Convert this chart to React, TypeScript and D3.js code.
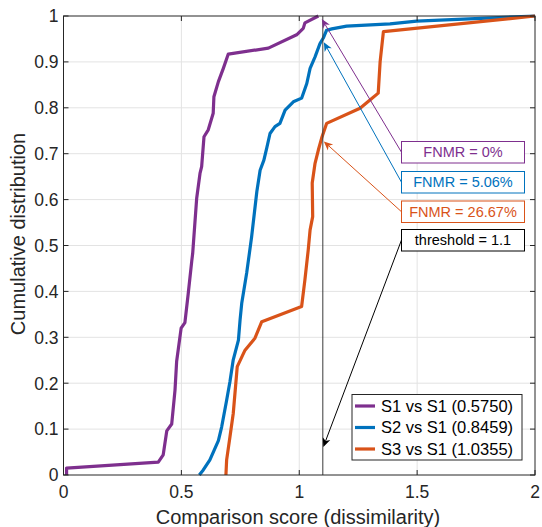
import React from "react";
import * as d3 from "d3";

const s1X = [0.013, 0.013, 0.402, 0.423, 0.438, 0.459, 0.473, 0.48, 0.499, 0.515, 0.529, 0.544, 0.548, 0.565, 0.579, 0.586, 0.596, 0.614, 0.635, 0.638, 0.657, 0.678, 0.699, 0.869, 0.989, 1.017, 1.024, 1.081];
const s1Y = [0, 0.015, 0.028, 0.044, 0.096, 0.111, 0.185, 0.248, 0.32, 0.332, 0.395, 0.466, 0.483, 0.603, 0.657, 0.672, 0.737, 0.752, 0.788, 0.824, 0.857, 0.886, 0.917, 0.930, 0.959, 0.973, 0.985, 1.0];

const s2X = [0.576, 0.593, 0.621, 0.657, 0.671, 0.692, 0.706, 0.720, 0.742, 0.749, 0.756, 0.777, 0.798, 0.820, 0.834, 0.850, 0.862, 0.876, 0.897, 0.918, 0.940, 0.975, 1.010, 1.032, 1.046, 1.067, 1.088, 1.102, 1.116, 1.138, 1.201, 1.385, 1.498, 2.0];
const s2Y = [0, 0.011, 0.033, 0.075, 0.105, 0.163, 0.203, 0.251, 0.294, 0.338, 0.374, 0.44, 0.519, 0.617, 0.664, 0.686, 0.712, 0.744, 0.759, 0.766, 0.795, 0.813, 0.821, 0.853, 0.886, 0.911, 0.940, 0.952, 0.969, 0.972, 0.978, 0.983, 0.989, 1.0];

const s3X = [0.689, 0.692, 0.706, 0.720, 0.737, 0.770, 0.812, 0.841, 1.010, 1.024, 1.038, 1.046, 1.057, 1.055, 1.067, 1.081, 1.095, 1.116, 1.258, 1.300, 1.335, 1.343, 1.357, 2.0];
const s3Y = [0, 0.033, 0.083, 0.134, 0.236, 0.272, 0.298, 0.334, 0.367, 0.425, 0.49, 0.534, 0.563, 0.636, 0.679, 0.708, 0.734, 0.766, 0.799, 0.817, 0.832, 0.900, 0.966, 1.0];

const seriesNames = ["S1 vs S1 (0.5750)", "S2 vs S1 (0.8459)", "S3 vs S1 (1.0355)"];
const seriesColors = ["#7E2F8E", "#0072BD", "#D95319"];
const fnmrLabels = ["FNMR = 0%", "FNMR = 5.06%", "FNMR = 26.67%"];
const fnmrValues = [0, 0.0506, 0.2667];
const threshold = 1.1;
const xTicks = [0, 0.5, 1, 1.5, 2];
const yTicks = [0, 0.1, 0.2, 0.3, 0.4, 0.5, 0.6, 0.7, 0.8, 0.9, 1];

const W = 542, H = 527;
const L = 63.5, R = 535, T = 16, B = 475;
const FONT = "'Liberation Sans', Arial, Helvetica, sans-serif";
const AX = "#262626";

function Arrow({ x1, y1, x2, y2, color }: { x1: number; y1: number; x2: number; y2: number; color: string }) {
  const ang = Math.atan2(y2 - y1, x2 - x1);
  const len = 9, hw = 4, notch = 6.5;
  const ux = Math.cos(ang), uy = Math.sin(ang);
  const px = -uy, py = ux;
  const bx = x2 - ux * len, by = y2 - uy * len;
  const nx = x2 - ux * notch, ny = y2 - uy * notch;
  const pts = [
    [x2, y2],
    [bx + px * hw, by + py * hw],
    [nx, ny],
    [bx - px * hw, by - py * hw],
  ];
  return (
    <g>
      <line x1={x1} y1={y1} x2={nx} y2={ny} stroke={color} strokeWidth={1} />
      <polygon points={pts.map((p) => p.join(",")).join(" ")} fill={color} />
    </g>
  );
}

export default function App() {
  const x = d3.scaleLinear().domain([0, 2]).range([L, R]);
  const y = d3.scaleLinear().domain([0, 1]).range([B, T]);
  const line = d3.line<[number, number]>().x((d) => x(d[0])).y((d) => y(d[1]));
  const series = [
    d3.zip(s1X, s1Y) as [number, number][],
    d3.zip(s2X, s2Y) as [number, number][],
    d3.zip(s3X, s3Y) as [number, number][],
  ];
  const tx = x(threshold);
  const boxX = 401.5, boxW = 123;
  const boxY = [141.5, 171.5, 201, 229.5];
  const boxH = 21.5;
  const targets = fnmrValues.map((v) => y(1 - v));
  const legX = 352, legY = 394.5, legW = 170, legH = 65.5;
  const rowY = [406, 427.5, 449];

  return (
    <svg width={W} height={H} style={{ position: "absolute", left: 0, top: 0, background: "#fff" }} fontFamily={FONT}>
      <rect x={0} y={0} width={W} height={H} fill="#fff" />
      {/* grid */}
      {xTicks.slice(1, -1).map((t) => (
        <line key={"gx" + t} x1={x(t)} x2={x(t)} y1={T} y2={B} stroke="#e3e3e3" strokeWidth={1} />
      ))}
      {yTicks.slice(1, -1).map((t) => (
        <line key={"gy" + t} x1={L} x2={R} y1={y(t)} y2={y(t)} stroke="#e3e3e3" strokeWidth={1} />
      ))}
      {/* curves */}
      {series.map((s, i) => (
        <path key={i} d={line(s) || ""} fill="none" stroke={seriesColors[i]} strokeWidth={3.2} strokeLinejoin="round" />
      ))}
      {/* threshold */}
      <line x1={tx} x2={tx} y1={y(0)} y2={y(1)} stroke="#3a3a3a" strokeWidth={1} />
      {/* axes box */}
      <rect x={L} y={T} width={R - L} height={B - T} fill="none" stroke={AX} strokeWidth={1} />
      {xTicks.map((t) => (
        <g key={"tx" + t}>
          <line x1={x(t)} x2={x(t)} y1={B} y2={B - 5} stroke={AX} />
          <line x1={x(t)} x2={x(t)} y1={T} y2={T + 5} stroke={AX} />
          <text x={x(t)} y={B + 23} textAnchor="middle" fontSize={17.5} fill={AX}>{String(t)}</text>
        </g>
      ))}
      {yTicks.map((t) => (
        <g key={"ty" + t}>
          <line x1={L} x2={L + 5} y1={y(t)} y2={y(t)} stroke={AX} />
          <line x1={R} x2={R - 5} y1={y(t)} y2={y(t)} stroke={AX} />
          <text x={L - 5} y={y(t)} dy="0.36em" textAnchor="end" fontSize={17.5} fill={AX}>{String(t)}</text>
        </g>
      ))}
      <text x={298} y={524} textAnchor="middle" fontSize={20} fill={AX}>Comparison score (dissimilarity)</text>
      <text transform={`translate(25,234) rotate(-90)`} textAnchor="middle" fontSize={20} fill={AX}>Cumulative distribution</text>
      {/* annotations */}
      {fnmrLabels.map((lab, i) => (
        <g key={"a" + i}>
          <Arrow x1={boxX} y1={boxY[i] + boxH / 2} x2={tx + (i === 0 ? -1 : 1)} y2={i === 0 ? 19 : targets[i] + 3} color={seriesColors[i]} />
          <rect x={boxX} y={boxY[i]} width={boxW} height={boxH} fill="#fff" stroke={seriesColors[i]} strokeWidth={1} />
          <text x={boxX + boxW / 2} y={boxY[i] + boxH / 2} dy="0.36em" textAnchor="middle" fontSize={14.5} fill={seriesColors[i]}>{lab}</text>
        </g>
      ))}
      <Arrow x1={boxX} y1={240} x2={tx + 0.5} y2={447} color="#000" />
      <rect x={boxX} y={boxY[3]} width={boxW} height={boxH} fill="#fff" stroke="#000" strokeWidth={1} />
      <text x={boxX + boxW / 2} y={boxY[3] + boxH / 2} dy="0.36em" textAnchor="middle" fontSize={14.5} fill="#000">{`threshold = ${threshold}`}</text>
      {/* legend */}
      <rect x={legX} y={legY} width={legW} height={legH} fill="#fff" stroke={AX} strokeWidth={1} />
      {seriesNames.map((n, i) => (
        <g key={"l" + i}>
          <line x1={355} x2={375} y1={rowY[i]} y2={rowY[i]} stroke={seriesColors[i]} strokeWidth={3.2} />
          <text x={381} y={rowY[i]} dy="0.36em" fontSize={16.5} fill="#000">{n}</text>
        </g>
      ))}
    </svg>
  );
}
